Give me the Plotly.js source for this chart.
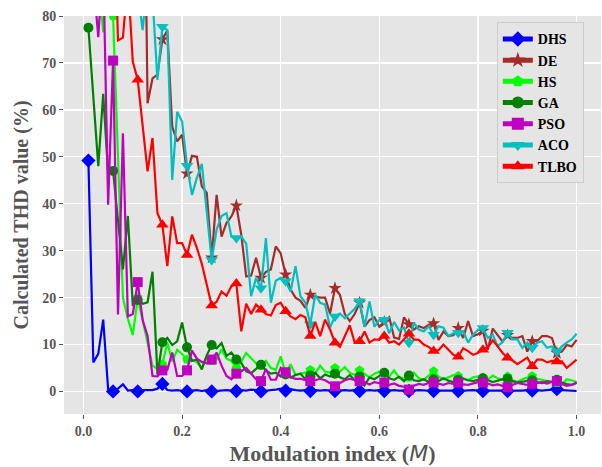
<!DOCTYPE html>
<html>
<head>
<meta charset="utf-8">
<script src="https://cdn.plot.ly/plotly-3.0.1.min.js"></script>
<style>
  html, body { margin: 0; padding: 0; background: #ffffff; }
  #chart { width: 602px; height: 467px; }
</style>
</head>
<body>
<div id="chart"></div>
<script>
// Modulation index M = 0.01 ... 1.00
const modulationIndex = [
  0.01,0.02,0.03,0.04,0.05,0.06,0.07,0.08,0.09,0.10,
  0.11,0.12,0.13,0.14,0.15,0.16,0.17,0.18,0.19,0.20,
  0.21,0.22,0.23,0.24,0.25,0.26,0.27,0.28,0.29,0.30,
  0.31,0.32,0.33,0.34,0.35,0.36,0.37,0.38,0.39,0.40,
  0.41,0.42,0.43,0.44,0.45,0.46,0.47,0.48,0.49,0.50,
  0.51,0.52,0.53,0.54,0.55,0.56,0.57,0.58,0.59,0.60,
  0.61,0.62,0.63,0.64,0.65,0.66,0.67,0.68,0.69,0.70,
  0.71,0.72,0.73,0.74,0.75,0.76,0.77,0.78,0.79,0.80,
  0.81,0.82,0.83,0.84,0.85,0.86,0.87,0.88,0.89,0.90,
  0.91,0.92,0.93,0.94,0.95,0.96,0.97,0.98,0.99,1.00
];

// Calculated THD (%) for each optimisation method
const thdDHS = [
  49.2,6.2,8.0,15.3,0.5,0.0,0.6,1.5,0.2,0.3,
  0.0,0.3,0.3,0.3,0.6,1.6,0.3,0.2,0.3,0.2,
  0.0,0.2,0.3,0.1,0.3,0.0,0.1,0.2,0.3,0.2,
  0.1,0.3,0.2,0.4,0.3,0.0,0.2,0.3,0.4,0.6,
  0.2,0.5,0.3,0.2,0.3,0.1,0.3,0.2,0.3,0.2,
  0.1,0.2,0.3,0.2,0.3,0.1,0.2,0.3,0.2,0.3,
  0.1,0.2,0.3,0.2,0.2,0.1,0.2,0.3,0.2,0.2,
  0.1,0.2,0.2,0.3,0.2,0.1,0.2,0.2,0.3,0.2,
  0.1,0.2,0.2,0.3,0.2,0.1,0.2,0.2,0.2,0.3,
  0.2,0.3,0.2,0.3,0.4,0.5,0.3,0.2,0.2,0.1
];
const thdDE = [
  150,145,140,135,130,125,120,115,110,120,
  130,140,61.4,66.7,67.5,75.0,76.9,56.4,53.3,54.7,
  46.4,50.2,50.0,43.7,42.3,28.5,41.9,33.0,35.9,37.3,
  39.6,33.4,24.5,24.7,28.5,24.2,25.5,26.0,30.9,29.4,
  24.9,21.7,20.0,19.3,17.8,20.6,20.2,20.0,20.0,16.6,
  22.0,20.6,16.5,15.0,16.5,18.9,13.8,15.2,15.8,13.8,
  14.8,15.8,11.5,11.2,15.8,14.3,13.2,13.9,13.5,14.2,
  14.5,11.0,12.8,11.8,12.0,13.5,11.4,15.0,11.8,12.2,
  12.9,8.9,13.4,12.0,10.6,12.0,11.4,11.4,11.8,8.5,
  10.7,10.7,11.8,11.8,11.4,8.2,8.5,9.9,9.6,11.0
];
const thdHS = [
  95,90,88,76.5,92,80,50,20,15.5,12,
  20,15.2,10.5,5.5,4.8,5.8,10.4,6.4,8.9,8.0,
  6.8,6.8,6.2,5.0,7.5,6.5,6.8,9.0,7.0,6.5,
  5.0,6.4,8.2,7.0,6.0,5.5,6.5,5.0,4.6,7.5,
  3.8,5.8,3.5,3.8,4.0,4.6,3.8,5.5,4.2,4.0,
  5.0,4.2,5.2,4.0,3.5,4.5,3.8,3.0,3.8,4.2,
  4.0,3.2,4.5,3.0,2.8,3.0,4.0,2.8,2.5,3.5,
  4.3,3.2,2.6,3.0,3.5,3.3,2.8,2.4,3.0,3.2,
  3.0,2.6,3.4,2.8,2.5,3.2,2.4,2.0,2.6,2.9,
  3.3,2.7,2.5,2.2,2.0,1.8,1.5,2.6,2.4,2.0
];
const thdGA = [
  77.5,62.5,48.0,63.4,46.5,47.0,36.0,26.0,37.4,18.3,
  19.5,18.7,19.0,25.5,3.6,10.5,11.4,9.9,10.7,14.7,
  9.4,6.5,6.8,4.7,7.7,9.9,9.2,10.3,7.6,8.3,
  6.8,6.1,4.3,3.9,4.8,5.7,4.5,3.8,4.0,3.2,
  3.6,3.0,3.5,3.8,2.6,3.4,4.0,2.8,3.6,3.2,
  3.8,3.0,2.6,3.5,2.4,3.2,1.3,3.0,2.6,3.4,
  4.0,2.8,2.5,3.1,2.2,3.4,2.4,2.2,2.6,2.0,
  2.6,2.2,2.8,2.3,2.0,2.5,2.7,2.4,2.2,2.5,
  2.8,2.4,2.0,2.3,2.6,2.7,2.2,1.9,2.1,2.3,
  2.4,2.0,1.8,2.2,2.0,2.5,1.9,1.6,1.4,1.8
];
const thdPSO = [
  95,88,75.5,92,39.8,70.5,16.4,55.0,16.0,16.5,
  23.3,15.2,11.8,3.3,3.2,4.5,4.6,8.3,3.3,3.3,
  4.5,8.7,7.0,6.3,6.0,6.8,8.3,5.5,3.3,2.6,
  3.8,4.3,5.0,3.9,2.6,2.2,4.8,2.5,2.5,5.0,
  4.1,3.0,2.7,2.7,2.4,2.2,2.4,2.7,2.4,1.8,
  1.1,1.8,2.4,2.7,2.4,2.2,2.0,1.5,2.0,1.8,
  1.9,1.4,1.7,1.2,1.0,0.4,1.2,1.6,1.4,1.8,
  1.9,1.6,1.4,1.8,1.6,1.9,1.5,1.4,1.7,2.0,
  1.9,1.7,1.3,1.5,1.2,0.9,1.4,1.8,1.6,1.4,
  1.6,1.8,2.0,1.7,2.1,2.2,1.6,1.2,1.4,1.9
];
const thdACO = [
  150,145,140,135,130,125,120,110,100,95,
  85,77.0,88,84,66.4,77.7,77.0,45.1,59.6,57.5,
  48.1,41.9,45.5,48.5,38.0,28.0,34.5,37.4,38.0,33.0,
  32.7,33.0,31.5,20.3,24.2,22.0,32.7,18.9,23.6,24.2,
  23.5,21.3,26.7,20.3,18.9,14.3,20.6,18.9,18.5,13.6,
  16.0,16.6,15.6,16.6,17.6,19.2,13.8,19.2,13.8,15.2,
  15.3,12.4,14.8,13.0,13.6,10.4,14.6,13.2,12.8,13.9,
  12.1,13.9,13.6,11.8,12.4,12.5,12.8,10.4,12.1,13.1,
  13.5,11.4,12.1,9.6,10.6,12.5,11.1,11.1,9.3,10.4,
  9.3,10.4,10.7,9.3,9.6,8.5,9.6,10.4,11.1,12.3
];
const thdTLBO = [
  150,140,130,125,120,110,74.8,75.4,88,70.3,
  66.4,56.6,46.9,54.0,38.0,35.5,26.7,37.3,31.6,31.6,
  29.1,33.4,30.6,27.2,22.4,18.3,19.1,21.3,20.4,22.4,
  23.0,12.8,18.7,16.5,18.5,17.4,16.5,16.2,18.4,18.9,
  17.1,16.0,15.4,16.3,15.8,11.8,14.8,11.8,15.3,13.2,
  10.4,9.5,12.0,14.1,10.4,10.7,12.8,10.4,11.1,11.0,
  11.8,10.4,10.7,10.0,11.1,12.3,11.1,11.0,10.0,9.5,
  8.6,8.8,10.0,9.0,7.8,7.4,9.2,8.6,7.8,8.2,
  8.9,9.4,10.9,9.6,8.2,7.2,6.6,5.8,6.6,7.2,
  5.4,6.8,6.8,6.2,6.5,6.4,6.4,5.0,6.0,6.8
];

const methodNames = ['DHS', 'DE', 'HS', 'GA', 'PSO', 'ACO', 'TLBO'];
const methodValues = [thdDHS, thdDE, thdHS, thdGA, thdPSO, thdACO, thdTLBO];
const methodColors = ['#0000ff', '#a52a2a', '#00ff00', '#008000', '#bf00bf', '#00bfbf', '#ff0000'];
const methodSymbols = ['diamond', 'star', 'pentagon', 'circle', 'square', 'triangle-down', 'triangle-up'];
const methodMarkerSizes = [11, 10, 10, 10, 10, 11, 11];

// a marker on every fifth sample, starting with the first
function everyFifth(size, n) {
  const out = [];
  for (let i = 0; i < n; i++) out.push(i % 5 === 0 ? size : 0);
  return out;
}

const serif = 'Liberation Serif, Times New Roman, serif';

const traces = methodNames.map((name, k) => ({
  type: 'scatter',
  mode: 'lines+markers',
  name: name,
  x: modulationIndex,
  y: methodValues[k],
  line: { color: methodColors[k], width: 2.2 },
  marker: {
    color: methodColors[k],
    symbol: methodSymbols[k],
    opacity: 1,
    size: everyFifth(methodMarkerSizes[k], modulationIndex.length),
    line: { width: 0 }
  },
  hoverinfo: 'x+y+name'
}));

const axisCommon = {
  showgrid: true,
  gridcolor: '#ffffff',
  gridwidth: 1.3,
  zeroline: false,
  showline: false,
  ticks: 'outside',
  ticklen: 4,
  tickwidth: 1,
  tickcolor: '#555555',
  tickfont: { family: serif, size: 14, color: '#555555', weight: 'bold' }
};

const layout = {
  width: 602,
  height: 467,
  margin: { l: 64, r: 1, t: 16, b: 53 },
  paper_bgcolor: '#ffffff',
  plot_bgcolor: '#e5e5e5',
  showlegend: true,
  xaxis: Object.assign({}, axisCommon, {
    range: [-0.0395, 1.0495],
    tickvals: [0, 0.2, 0.4, 0.6, 0.8, 1.0],
    ticktext: ['0.0', '0.2', '0.4', '0.6', '0.8', '1.0'],
    title: {
      text: 'Modulation index (<span style="font-family:DejaVu Sans;font-weight:normal"><i>M</i></span>)',
      font: { family: serif, size: 22, color: '#555555', weight: 'bold' },
      standoff: 7
    }
  }),
  yaxis: Object.assign({}, axisCommon, {
    range: [-4.8, 80],
    tickvals: [0, 10, 20, 30, 40, 50, 60, 70, 80],
    title: {
      text: 'Calculated THD value (%)',
      font: { family: serif, size: 20, color: '#555555', weight: 'bold' },
      standoff: 8
    }
  }),
  legend: {
    x: 0.806,
    y: 0.984,
    xanchor: 'left',
    yanchor: 'top',
    bgcolor: '#e5e5e5',
    bordercolor: '#cccccc',
    borderwidth: 1,
    itemsizing: 'constant',
    font: { family: serif, size: 14, color: '#000000', weight: 'bold' }
  }
};

Plotly.newPlot('chart', traces, layout, { displayModeBar: false, staticPlot: true });
</script>
</body>
</html>
